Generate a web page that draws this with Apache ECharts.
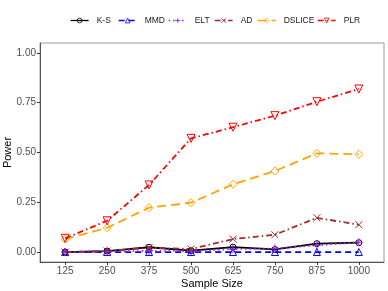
<!DOCTYPE html>
<html><head><meta charset="utf-8">
<script src="https://cdn.jsdelivr.net/npm/echarts@6/dist/echarts.min.js"></script>
<style>html,body{margin:0;padding:0;background:#fff}#c{width:388px;height:291px}</style>
</head><body><div id="c"></div>
<script>
const sampleSize = [125, 250, 375, 500, 625, 750, 875, 1000];
const ks     = [0.000, 0.005, 0.024, 0.007, 0.025, 0.013, 0.042, 0.047];
const mmd    = [0.000, 0.000, 0.000, 0.000, 0.000, 0.000, 0.000, 0.000];
const elt    = [0.000, 0.002, 0.006, 0.005, 0.015, 0.018, 0.034, 0.049];
const ad     = [0.000, 0.005, 0.022, 0.015, 0.065, 0.087, 0.172, 0.137];
const dslice = [0.065, 0.122, 0.223, 0.248, 0.340, 0.407, 0.496, 0.491];
const plr    = [0.069, 0.157, 0.337, 0.571, 0.627, 0.685, 0.755, 0.819];
const yTicks = [0, 0.25, 0.5, 0.75, 1];
const seriesNames = ['K-S', 'MMD', 'ELT', 'AD', 'DSLICE', 'PLR'];

const plusPath = 'path://M5,0L5,10M0,5L10,5';
const xPath = 'path://M0,0L10,10M10,0L0,10';
const defs = [
  {name:'K-S', data:ks, color:'#000000', type:'solid', symbol:'circle', size:6},
  {name:'MMD', data:mmd, color:'#0000ff', type:[6,4], symbol:'triangle', size:7},
  {name:'ELT', data:elt, color:'#a020f0', type:[1.5,3], symbol:plusPath, size:8},
  {name:'AD', data:ad, color:'#a52a2a', type:[6,3,1.5,3], symbol:xPath, size:7},
  {name:'DSLICE', data:dslice, color:'#ffa500', type:[9,5], symbol:'diamond', size:8},
  {name:'PLR', data:plr, color:'#ff0000', type:[6,3,1.5,3], symbol:'path://M0,0L10,0L5,9Z', size:8}
];
const series = defs.map(d => ({
  name: d.name, type: 'line',
  data: sampleSize.map((x, i) => [x, d.data[i]]),
  symbol: d.symbol, symbolSize: d.size, showSymbol: true,
  lineStyle: {color: d.color, width: 1.8, type: d.type},
  itemStyle: {color: 'rgba(0,0,0,0)', borderColor: d.color, borderWidth: 1},
  emphasis: {disabled: true}, animation: false, z: 2
}));
const legendLeft = [70, 118, 168, 214, 257, 317];
const legends = seriesNames.map((n, i) => ({
  data: [n], left: legendLeft[i], top: 16, padding: 0,
  itemWidth: 18, itemHeight: 6, selectedMode: false,
  lineStyle: {width: 1.3},
  itemStyle: {borderWidth: 0.8},
  textStyle: {fontSize: 8.5, color: '#1a1a1a', fontFamily: 'Liberation Sans', padding: [0,0,0,3]}
}));

const chart = echarts.init(document.getElementById('c'), null, {renderer: 'canvas'});
chart.setOption({
  backgroundColor: '#fff',
  animation: false,
  legend: legends,
  grid: {left: 40, top: 43, width: 344, height: 219, show: true, borderColor: '#999', borderWidth: 1,
    backgroundColor: 'transparent', outerBoundsMode: 'none', containLabel: false},
  xAxis: {
    type: 'value', min: 50, max: 1075,
    name: 'Sample Size', nameLocation: 'middle', nameGap: 16, nameMoveOverlap: false,
    nameTextStyle: {fontSize: 11, color: '#000', fontFamily: 'Liberation Sans', verticalAlign: 'top'},
    axisLine: {show: true, onZero: false, lineStyle: {color: '#555', width: 1}},
    axisTick: {show: true, length: 3, customValues: sampleSize, lineStyle: {color: '#333'}},
    axisLabel: {customValues: sampleSize, fontSize: 10, color: '#4d4d4d', margin: 4, fontFamily: 'Liberation Sans',
      formatter: v => String(v)},
    splitLine: {show: false}
  },
  yAxis: {
    type: 'value', min: -0.05, max: 1.05,
    name: 'Power', nameLocation: 'middle', nameGap: 27, nameRotate: 90, nameMoveOverlap: false,
    nameTextStyle: {fontSize: 11, color: '#000', fontFamily: 'Liberation Sans', verticalAlign: 'bottom'},
    axisLine: {show: true, onZero: false, lineStyle: {color: '#555', width: 1}},
    axisTick: {show: true, length: 3, customValues: yTicks, lineStyle: {color: '#333'}},
    axisLabel: {customValues: yTicks, fontSize: 10, color: '#4d4d4d', margin: 4, fontFamily: 'Liberation Sans',
      formatter: v => v.toFixed(2)},
    splitLine: {show: false}
  },
  series: series
});
</script></body></html>
